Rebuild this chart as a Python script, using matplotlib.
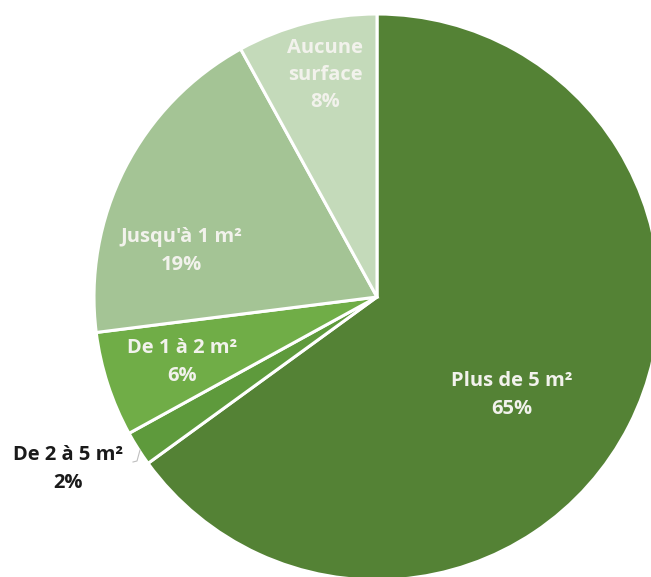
import matplotlib
matplotlib.use("Agg")
import matplotlib.pyplot as plt

# Data
categories = ["Plus de 5 m²", "De 2 à 5 m²", "De 1 à 2 m²", "Jusqu'à 1 m²", "Aucune\nsurface"]
values = [65, 2, 6, 19, 8]
colors = ["#548235", "#5E9A3C", "#70AD47", "#A4C495", "#C4DABA"]

# Layout (pixel space)
W, H = 651, 577
cx, cy, R = 377, 297, 283
label_pos = [(512, 395), (68, 469), (182, 362), (181, 251), (325, 75)]
label_colors = ["#F2F2EC", "#1a1a1a", "#F2F2EC", "#F2F2EC", "#F2F2EC"]

plt.rcParams["font.family"] = ["Open Sans", "DejaVu Sans"]

fig = plt.figure(figsize=(W / 100, H / 100), dpi=100)
ax = fig.add_axes([0, 0, 1, 1])
wedges, _ = ax.pie(values, colors=colors, startangle=90, counterclock=False,
                   center=(cx, H - cy), radius=R,
                   wedgeprops=dict(edgecolor="white", linewidth=2.2))
ax.set_xlim(0, W)
ax.set_ylim(0, H)
ax.set_aspect("equal")
ax.axis("off")

for cat, v, (lx, ly), tc in zip(categories, values, label_pos, label_colors):
    ax.text(lx, H - ly, f"{cat}\n{v}%", ha="center", va="center",
            fontsize=14.5, fontweight="bold", color=tc, linespacing=1.47)

# small leader line for the 2% label
ax.plot([140, 137, 133], [H - 450, H - 461, H - 462], color="#bfbfbf", lw=0.8)

fig.savefig("out.png", dpi=100)
